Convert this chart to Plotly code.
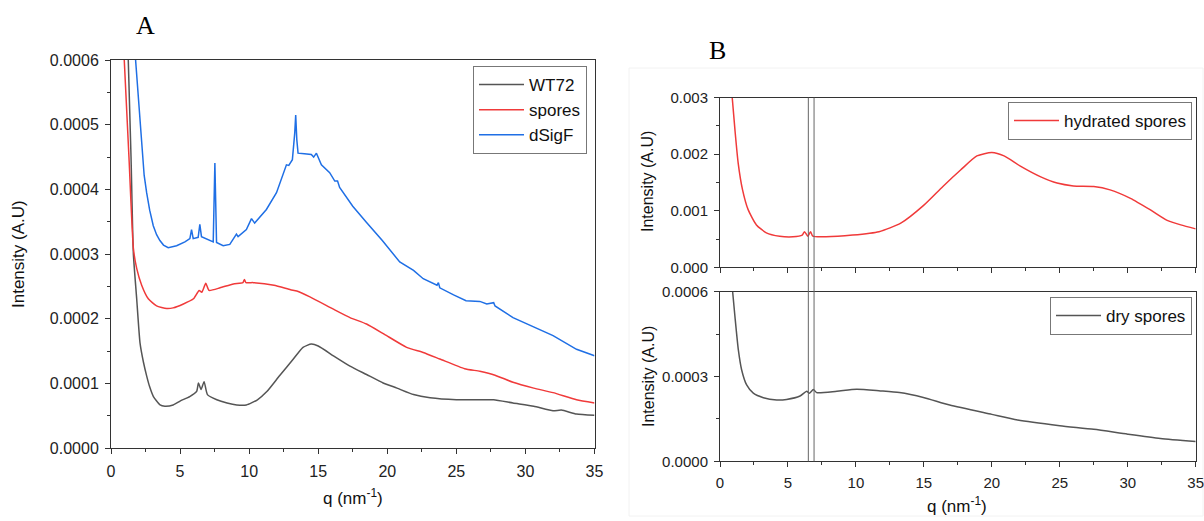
import plotly.graph_objects as go

# ---------------- Data ----------------
# Panel A  (intensity values in units of 1e-4)
wt_q = [1.25, 1.45, 1.62, 1.86, 2.1, 2.35, 2.58, 2.8, 3.07, 3.55, 3.9, 4.5, 5.0, 5.7, 6.2, 6.33, 6.52, 6.74, 6.98,
        7.66, 8.4, 9.1, 9.8, 10.6, 11.3, 12.2, 13.2, 13.9, 14.5, 15.0, 16.1, 17.3, 18.5, 19.7, 20.7,
        21.9, 23.1, 25.0, 26.7, 27.7, 29.1, 30.6, 32.0, 32.6, 33.7, 35.0]
wt_I = [6.0, 4.5, 3.0, 2.31, 1.63, 1.33, 1.12, 0.95, 0.80, 0.67, 0.65, 0.67, 0.73, 0.80, 0.88, 1.01, 0.91, 1.03, 0.83,
        0.75, 0.70, 0.67, 0.67, 0.75, 0.88, 1.12, 1.38, 1.56, 1.61, 1.58, 1.43, 1.27, 1.14, 1.01, 0.93,
        0.83, 0.78, 0.75, 0.75, 0.75, 0.70, 0.65, 0.58, 0.59, 0.53, 0.51]

sp_q = [0.96, 1.3, 1.62, 1.86, 2.22, 2.7, 3.3, 4.03, 4.5, 5.24, 5.97, 6.38, 6.57, 6.86, 7.1, 7.9, 8.86,
        9.55, 9.66, 9.77, 10.3, 11.8, 13.0, 13.45, 14.4, 16.1, 17.3, 18.5, 19.8, 21.4, 22.6, 23.8, 25.6,
        26.7, 27.8, 29.1, 30.6, 32.0, 33.7, 35.0]
sp_I = [6.0, 4.5, 3.09, 2.78, 2.52, 2.31, 2.2, 2.16, 2.17, 2.23, 2.31, 2.44, 2.41, 2.55, 2.44, 2.48, 2.54,
        2.56, 2.61, 2.56, 2.56, 2.52, 2.45, 2.43, 2.34, 2.15, 2.02, 1.92, 1.76, 1.56, 1.48, 1.38, 1.23,
        1.19, 1.13, 1.02, 0.93, 0.86, 0.75, 0.70]

ds_q = [1.78, 1.98, 2.22, 2.4, 2.58, 2.8, 3.06, 3.3, 3.54, 3.8, 4.14, 4.75, 5.35, 5.71, 5.83, 5.95, 6.31, 6.43,
        6.55, 7.16, 7.4, 7.52, 7.59, 7.64, 8.12, 8.6, 9.08, 9.2, 9.8, 10.17, 10.4, 11.25, 11.98, 12.7, 12.87,
        13.13, 13.3, 13.37, 13.45, 13.54, 14.0, 14.5, 14.67, 14.87, 15.23, 15.83, 16.2, 16.4, 16.55, 17.5,
        18.5, 19.45, 19.64, 20.9, 21.9, 22.6, 23.6, 23.7, 23.8, 24.8, 25.7, 26.7, 27.2, 27.7, 27.8, 29.1,
        30.6, 32.0, 33.7, 35.0]
ds_I = [6.0, 5.38, 4.62, 4.22, 3.95, 3.68, 3.44, 3.30, 3.21, 3.14, 3.10, 3.13, 3.19, 3.24, 3.38, 3.24, 3.26, 3.46,
        3.27, 3.21, 3.19, 4.41, 3.85, 3.18, 3.13, 3.15, 3.31, 3.27, 3.38, 3.55, 3.48, 3.69, 3.95, 4.38, 4.37,
        4.46, 4.87, 5.15, 4.77, 4.56, 4.55, 4.54, 4.50, 4.56, 4.38, 4.26, 4.13, 4.13, 4.03, 3.74,
        3.49, 3.26, 3.21, 2.88, 2.75, 2.62, 2.52, 2.56, 2.48, 2.37, 2.28, 2.27, 2.23, 2.25, 2.20, 2.02,
        1.87, 1.74, 1.53, 1.43]

# Panel B top: hydrated spores (units of 1e-3)
hy_q = [0.9, 1.1, 1.34, 1.66, 2.07, 2.68, 3.41, 4.39, 5.37, 6.05, 6.22, 6.46, 6.66, 6.83, 7.8, 9.76,
        11.7, 13.3, 14.96, 16.4, 17.7, 18.9, 20.0, 20.9, 22.1, 23.6, 24.8, 26.0, 27.5, 28.7, 30.2, 31.7,
        32.9, 33.9, 35.0]
hy_I = [3.0, 2.43, 1.84, 1.37, 1.02, 0.75, 0.61, 0.55, 0.54, 0.57, 0.63, 0.55, 0.63, 0.55, 0.54, 0.57,
        0.63, 0.78, 1.09, 1.43, 1.72, 1.97, 2.03, 1.97, 1.79, 1.60, 1.49, 1.44, 1.43, 1.37, 1.22, 1.01,
        0.83, 0.75, 0.68]

# Panel B bottom: dry spores (units of 1e-4)
dr_q = [0.93, 1.1, 1.35, 1.59, 1.96, 2.45, 3.19, 4.17, 4.9, 5.89, 6.38, 6.57, 6.87, 7.11, 8.6, 10.05,
        11.8, 13.2, 14.96, 16.9, 20.0, 21.9, 25.0, 27.5, 30.0, 32.4, 35.0]
dr_I = [6.0, 5.12, 3.94, 3.24, 2.70, 2.41, 2.25, 2.17, 2.19, 2.31, 2.48, 2.41, 2.54, 2.43, 2.48, 2.55,
        2.49, 2.43, 2.26, 1.99, 1.66, 1.46, 1.26, 1.13, 0.96, 0.81, 0.70]

marker_q = [6.5, 6.92]  # vertical reference lines in panel B

colors = {"WT72": "#555555", "spores": "#f03a3a", "dSigF": "#1f6fe5"}

# ---------------- Figure ----------------
W, H = 1204, 521
FONT = "Liberation Sans, Arial, sans-serif"
AX = "#333333"

def px(x):
    return x / W

def py(y):
    return 1 - y / H

fig = go.Figure()

for name, q, I, shape in [("WT72", wt_q, wt_I, "spline"), ("spores", sp_q, sp_I, "spline"),
                          ("dSigF", ds_q, ds_I, "linear")]:
    fig.add_trace(go.Scatter(x=q, y=[v * 1e-4 for v in I], mode="lines", name=name,
                             line=dict(color=colors[name], width=1.5, shape=shape, smoothing=0.5),
                             xaxis="x", yaxis="y", legend="legend"))

fig.add_trace(go.Scatter(x=hy_q, y=[v * 1e-3 for v in hy_I], mode="lines", name="hydrated spores",
                         line=dict(color="#f03a3a", width=1.5, shape="spline", smoothing=0.6),
                         xaxis="x2", yaxis="y2", legend="legend2"))
fig.add_trace(go.Scatter(x=dr_q, y=[v * 1e-4 for v in dr_I], mode="lines", name="dry spores",
                         line=dict(color="#555555", width=1.5, shape="spline", smoothing=0.6),
                         xaxis="x3", yaxis="y3", legend="legend3"))

def axis(domain, rng, dtick, minor, fmt=None, labels=True, size=16, anchor=None):
    d = dict(domain=domain, range=rng, dtick=dtick, tick0=0, showline=True, linecolor=AX,
             linewidth=1, mirror=True, ticks="outside", ticklen=5, tickwidth=1, tickcolor=AX,
             showgrid=False, zeroline=False, showticklabels=labels, automargin=False,
             ticklabeloverflow="allow",
             tickfont=dict(family=FONT, size=size, color="#222222"),
             minor=dict(ticks="outside", ticklen=3, tickwidth=1, tickcolor=AX, dtick=minor, showgrid=False),
             ticklabelstandoff=3)
    if fmt:
        d["tickformat"] = fmt
    if anchor:
        d["anchor"] = anchor
    return d

xA = [px(111), px(594.5)]
yA = [py(448.3), py(60)]
xB = [px(720), px(1195.7)]
yB1 = [py(267.3), py(97.7)]
yB2 = [py(461.3), py(291.7)]

legfont = dict(family=FONT, size=17, color="#111111")
fig.update_layout(
    width=W, height=H, margin=dict(l=0, r=0, t=0, b=0, autoexpand=False),
    paper_bgcolor="white", plot_bgcolor="white",
    xaxis=axis(xA, [0, 35], 5, 2.5, anchor="y", size=16),
    yaxis=axis(yA, [0, 0.0006], 0.0001, 0.00005, fmt=".4f", anchor="x", size=16),
    xaxis2=axis(xB, [0, 35], 5, 2.5, labels=False, anchor="y2", size=15),
    yaxis2=axis(yB1, [0, 0.003], 0.001, 0.0005, fmt=".3f", anchor="x2", size=15),
    xaxis3=axis(xB, [0, 35], 5, 2.5, anchor="y3", size=15),
    yaxis3=axis(yB2, [0, 0.0006], 0.0003, 0.00015, fmt=".4f", anchor="x3", size=15),
    legend=dict(x=px(587), y=py(66), xanchor="right", yanchor="top", bgcolor="white", itemwidth=45,
                bordercolor="#777777", borderwidth=1, font=legfont),
    legend2=dict(x=px(1192), y=py(102), xanchor="right", yanchor="top", bgcolor="white", itemwidth=45,
                 bordercolor="#777777", borderwidth=1, font=legfont),
    legend3=dict(x=px(1192), y=py(297), xanchor="right", yanchor="top", bgcolor="white", itemwidth=45,
                 bordercolor="#777777", borderwidth=1, font=legfont),
    showlegend=True,
)

shapes = [dict(type="rect", xref="paper", yref="paper", x0=px(629), x1=px(1203), y0=py(516), y1=py(68),
               line=dict(color="#f2f2f2", width=1), layer="below")]
for qv in marker_q:
    shapes.append(dict(type="line", xref="x2", yref="paper", x0=qv, x1=qv, y0=yB2[0], y1=yB1[1],
                       line=dict(color="#666666", width=1)))
fig.update_layout(shapes=shapes)

ann = []
def txt(x, y, s, size, angle=0, family=FONT, color="#111111"):
    ann.append(dict(x=px(x), y=py(y), xref="paper", yref="paper", text=s, showarrow=False,
                    xanchor="center", yanchor="middle", textangle=angle,
                    font=dict(family=family, size=size, color=color)))

txt(145, 25, "A", 26, family="Liberation Serif, Times New Roman, serif", color="#000000")
txt(717, 50, "B", 26, family="Liberation Serif, Times New Roman, serif", color="#000000")
txt(18, 254, "Intensity (A.U)", 17, angle=-90)
txt(648, 182, "Intensity (A.U)", 16, angle=-90)
txt(648, 377, "Intensity (A.U)", 16, angle=-90)
txt(353, 497, "q (nm<sup>-1</sup>)", 17)
txt(957, 505, "q (nm<sup>-1</sup>)", 17)
fig.update_layout(annotations=ann)

# remove the default page margin so the figure fills the window exactly; hide the mode bar
fig.write_html("out.html", config={"displayModeBar": False},
               post_script="document.body.style.margin='0px';document.body.style.overflow='hidden';")
